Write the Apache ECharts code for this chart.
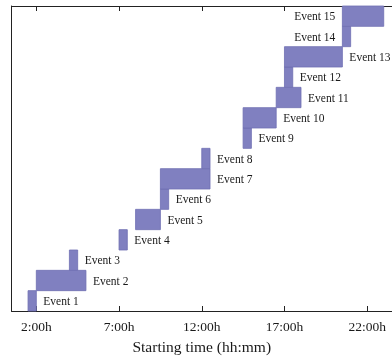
<!DOCTYPE html>
<html>
<head>
<meta charset="utf-8">
<script src="https://cdn.jsdelivr.net/npm/echarts@6/dist/echarts.min.js"></script>
<style>html,body{margin:0;padding:0;background:#fff;}#c{width:392px;height:356px;}</style>
</head>
<body>
<div id="c"></div>
<script>
var eventNames = ['Event 1','Event 2','Event 3','Event 4','Event 5','Event 6','Event 7','Event 8','Event 9','Event 10','Event 11','Event 12','Event 13','Event 14','Event 15'];
var startHours = [1.5, 2.0, 4.0, 7.0, 8.0, 9.5, 9.5, 12.0, 14.5, 14.5, 16.5, 17.0, 17.0, 20.5, 20.5];
var endHours   = [2.0, 5.0, 4.5, 7.5, 9.5, 10.0, 12.5, 12.5, 15.0, 16.5, 18.0, 17.5, 20.5, 21.0, 23.0];
var labelSide  = ['right','right','right','right','right','right','right','right','right','right','right','right','right','left','left'];
var tickHours  = [2, 7, 12, 17, 22];

var data = eventNames.map(function(n, i){ return [startHours[i], endHours[i], i, i + 1, n, labelSide[i]]; });

var chart = echarts.init(document.getElementById('c'));
var font = '"Liberation Serif", "DejaVu Serif", serif';
function fmt(v){ return Math.round(v) + ':00h'; }
var xCommon = {
  type: 'value', min: 0.5, max: 23.5, interval: 0.5,
  splitLine: {show: false},
  axisLine: {show: true, lineStyle: {color: '#222', width: 1}},
  axisTick: {show: true, inside: true, length: 5, lineStyle: {color: '#222'},
    customValues: tickHours},
  axisLabel: {customValues: tickHours}
};
chart.setOption({
  animation: false,
  grid: {left: 11.5, right: 0, top: 6, bottom: 45, containLabel: false, outerBoundsMode: 'none'},
  xAxis: [
    Object.assign({}, xCommon, {
      position: 'bottom',
      name: 'Starting time (hh:mm)', nameLocation: 'middle', nameGap: 29,
      nameTextStyle: {fontFamily: font, fontSize: 15.5, color: '#1a1a1a'},
      axisLabel: {customValues: tickHours, formatter: fmt, fontFamily: font, fontSize: 13.5, color: '#1a1a1a', margin: 9}
    }),
    Object.assign({}, xCommon, {
      position: 'top',
      axisLabel: {show: false}
    })
  ],
  yAxis: {
    type: 'value', min: 0, max: 15,
    axisLine: {show: true, lineStyle: {color: '#222'}},
    axisTick: {show: false}, axisLabel: {show: false}, splitLine: {show: false}
  },
  series: [{
    type: 'custom',
    xAxisIndex: 0,
    clip: false,
    encode: {x: [0, 1], y: [2, 3]},
    data: data,
    renderItem: function(params, api){
      var p0 = api.coord([api.value(0), api.value(2)]);
      var p1 = api.coord([api.value(1), api.value(3)]);
      var x = p0[0], w = p1[0] - p0[0];
      var y = p1[1], h = p0[1] - p1[1];
      var side = data[params.dataIndex][5];
      var name = data[params.dataIndex][4];
      return {
        type: 'group',
        children: [
          {type: 'rect', shape: {x: x, y: y, width: w, height: h},
           style: {fill: '#8080c0', stroke: '#6f6fb3', lineWidth: 0.8}},
          {type: 'text', style: {
            text: name,
            x: side === 'right' ? x + w + 7 : x - 7,
            y: y + h / 2 + 1,
            align: side === 'right' ? 'left' : 'right',
            verticalAlign: 'middle',
            font: '11.5px ' + font,
            fill: '#1a1a1a'
          }}
        ]
      };
    }
  }]
});
</script>
</body>
</html>
